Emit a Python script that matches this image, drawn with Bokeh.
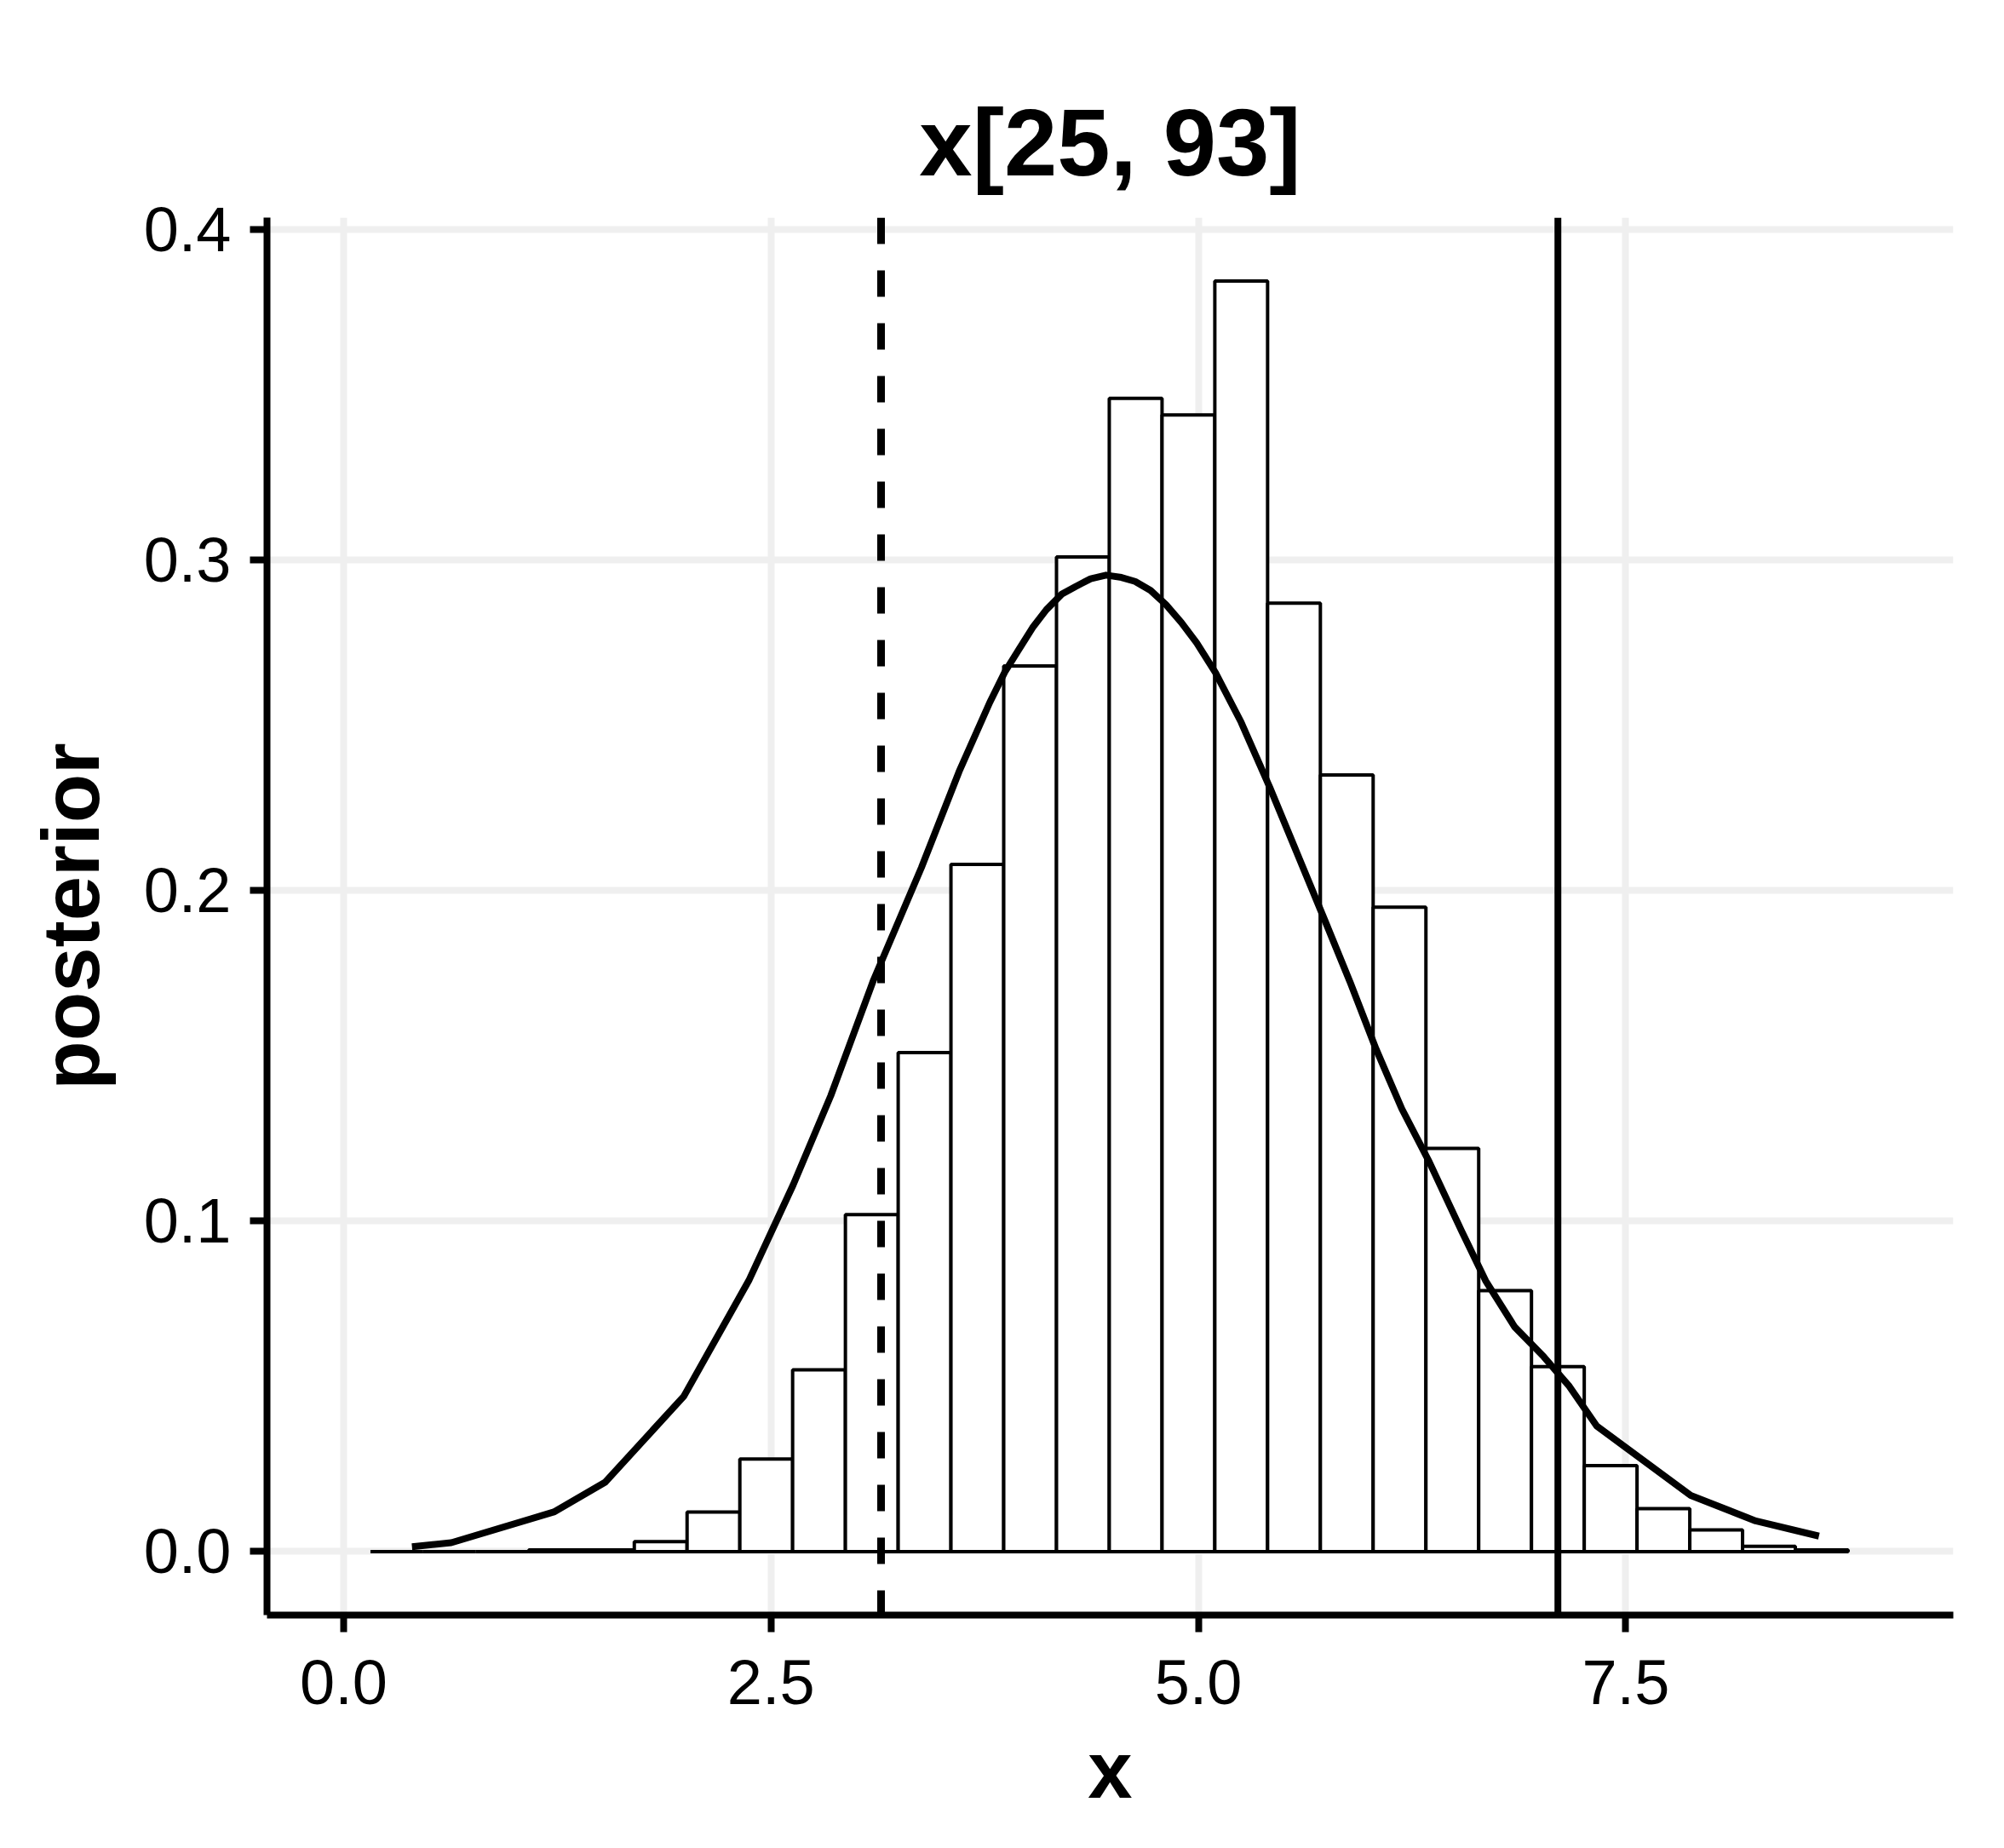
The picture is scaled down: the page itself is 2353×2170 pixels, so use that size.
from bokeh.plotting import figure
from bokeh.models import Range1d, FixedTicker, PrintfTickFormatter, Span
from bokeh.embed import file_html
from bokeh.resources import INLINE

# histogram (density) bins
bin_start = 0.157
bin_width = 0.3087
bar_heights = [0.0, 0.0, 0.0, 0.0005, 0.0005, 0.003, 0.012, 0.028, 0.055, 0.102,
               0.151, 0.208, 0.268, 0.301, 0.349, 0.344, 0.3845, 0.287, 0.235, 0.195,
               0.122, 0.079, 0.056, 0.026, 0.013, 0.0066, 0.0016, 0.0005]

# smooth prior/density curve
curve_x = [0.40, 0.63, 1.23, 1.53, 1.99, 2.37, 2.63, 2.85, 3.10, 3.38, 3.60, 3.78,
           3.87, 3.95, 4.03, 4.11, 4.20, 4.28, 4.37, 4.46, 4.55, 4.63, 4.72, 4.81,
           4.90, 4.99, 5.10, 5.25, 5.42, 5.58, 5.74,
           5.89, 6.04, 6.19, 6.35, 6.54, 6.68, 6.85, 7.02, 7.17, 7.33, 7.88, 8.26, 8.63]
curve_y = [0.0015, 0.0027, 0.012, 0.021, 0.047, 0.082, 0.111, 0.138, 0.173, 0.207,
           0.236, 0.257, 0.2664, 0.273, 0.2796, 0.285, 0.2897, 0.292, 0.2944, 0.2955,
           0.2948, 0.2936, 0.2909, 0.2866, 0.2812, 0.275, 0.266,
           0.251, 0.231, 0.211, 0.191, 0.172, 0.152, 0.134, 0.118, 0.097, 0.082,
           0.068, 0.059, 0.050, 0.038, 0.017, 0.0093, 0.0047]

# interval lines
dashed_x = 3.144
solid_x = 7.103

x_ticks = [0.0, 2.5, 5.0, 7.5]
y_ticks = [0.0, 0.1, 0.2, 0.3, 0.4]

title_text = "x[25, 93]"
x_label = "x"
y_label = "posterior"

lefts = [bin_start + i * bin_width for i in range(len(bar_heights))]
rights = [l + bin_width for l in lefts]

p = figure(width=2337, height=2154, output_backend="svg", toolbar_location=None,
           x_range=Range1d(-0.448, 9.416), y_range=Range1d(-0.0192, 0.4037),
           min_border_left=313, min_border_right=44, min_border_top=255,
           min_border_bottom=258, title=title_text)
p.outline_line_color = None
p.background_fill_color = "white"
p.border_fill_color = "white"

p.title.align = "center"
p.title.text_font = "Liberation Sans"
p.title.text_font_size = "112px"
p.title.text_font_style = "bold"
p.title.text_color = "black"
p.title.standoff = 52

for ax in (p.xaxis[0], p.yaxis[0]):
    ax.axis_line_width = 8
    ax.axis_line_color = "black"
    ax.major_tick_line_width = 8
    ax.major_tick_line_color = "black"
    ax.major_tick_out = 20
    ax.major_tick_in = 0
    ax.minor_tick_line_color = None
    ax.major_label_text_font = "Liberation Sans"
    ax.major_label_text_font_size = "74px"
    ax.major_label_text_color = "black"
    ax.axis_label_text_font = "Liberation Sans"
    ax.axis_label_text_font_size = "94px"
    ax.axis_label_text_font_style = "bold"
    ax.axis_label_text_color = "black"
    ax.formatter = PrintfTickFormatter(format="%.1f")

p.xaxis[0].ticker = FixedTicker(ticks=x_ticks)
p.yaxis[0].ticker = FixedTicker(ticks=y_ticks)
p.xaxis[0].axis_label = x_label
p.yaxis[0].axis_label = y_label
p.xaxis[0].major_label_standoff = 33
p.yaxis[0].major_label_standoff = 22
p.xaxis[0].axis_label_standoff = 22
p.yaxis[0].axis_label_standoff = 30

p.xgrid[0].ticker = FixedTicker(ticks=x_ticks)
p.ygrid[0].ticker = FixedTicker(ticks=y_ticks)
for g in (p.xgrid[0], p.ygrid[0]):
    g.grid_line_color = "#EFEFEF"
    g.grid_line_width = 8

p.quad(left=lefts, right=rights, top=bar_heights, bottom=0,
       fill_color="white", line_color="black", line_width=4)

p.line(curve_x, curve_y, line_color="black", line_width=8, line_join="round")

p.add_layout(Span(location=dashed_x, dimension="height", line_color="black",
                  line_width=9, line_dash="31 31"))
p.add_layout(Span(location=solid_x, dimension="height", line_color="black",
                  line_width=8))

open("out.html", "w").write(file_html(p, INLINE))
